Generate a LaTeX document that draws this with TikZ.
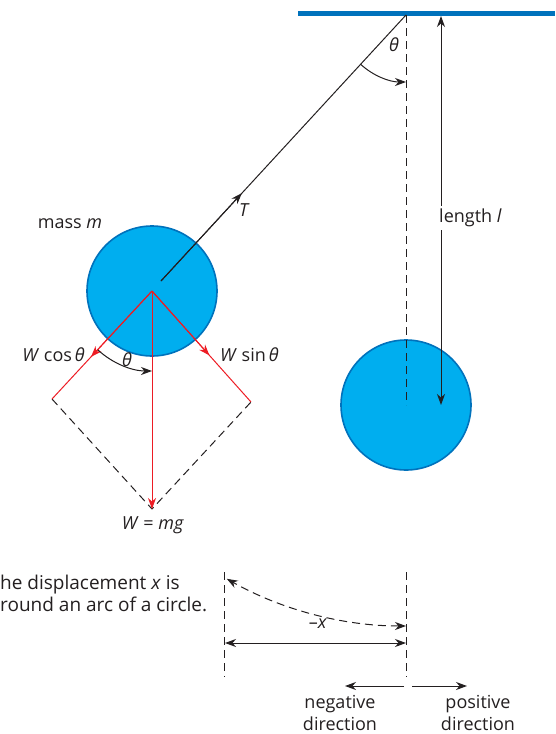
\documentclass[tikz,border=0pt]{standalone}
\usepackage{fontspec}
\setmainfont{Open Sans}
\usetikzlibrary{arrows.meta,calc}
\definecolor{bobfill}{RGB}{0,174,239}
\definecolor{bobedge}{RGB}{0,114,188}
\definecolor{barblue}{RGB}{0,114,188}
\definecolor{fred}{RGB}{237,28,36}
\definecolor{ink}{RGB}{35,31,32}
\newcommand{\thet}{\textit{θ}}
\begin{document}
\begin{tikzpicture}[x=1pt,y=-1pt,
  font=\fontsize{18}{22}\selectfont, text=ink,
  every node/.style={inner sep=1pt},
  bob/.style={circle, fill=bobfill, draw=bobedge, line width=1.6pt, minimum size=130pt, inner sep=0pt},
  ln/.style={draw=ink, line width=1pt},
  rl/.style={draw=fred, line width=1pt},
  dsh/.style={dash pattern=on 8pt off 5pt},
  tip/.style={-{Stealth[length=11pt,width=8pt,inset=3.5pt]}},
  tips/.style={{Stealth[length=11pt,width=8pt,inset=3.5pt]}-{Stealth[length=11pt,width=8pt,inset=3.5pt]}},
  lab/.style={inner sep=1pt}
]
\useasboundingbox (0,0) rectangle (555,734);

% ceiling
\coordinate (barL) at (298,13);
\coordinate (barR) at (555,13);
\draw[barblue, line width=5pt] (barL) -- (barR);
\coordinate (pivot) at (406,15);

% right bob (equilibrium)
\node[bob] (bobR) at (406,405) {};
\draw[ln,dsh] (pivot) -- (bobR.center);

% length arrow
\coordinate (lenTop) at (441,16);
\coordinate (lenBot) at (441,405);
\draw[ln,tips] (lenTop) -- (lenBot);
\node[fill=white, anchor=west, inner sep=3pt] (lenlab) at (436,218) {length \textit{l}};

% left bob (displaced)
\node[bob] (bobL) at (152,291) {};
\coordinate (strEnd) at (161,281);
\draw[ln] (pivot) -- (strEnd);
\draw[ln,tip] (strEnd) -- ($(strEnd)!0.33!(pivot)$) coordinate (Ttip);
\node[lab, anchor=west] (Tlab) at (238,210) {\textit{T}};

% angle at pivot
\draw[ln,tip] ($(pivot)+(132.5:67)$) arc[start angle=132.5, end angle=90, radius=67];
\node[lab] (thTop) at (394,45) {\thet};

% forces
\coordinate (F) at (152,291);
\coordinate (Cend) at (52,399);
\coordinate (Send) at (251,402);
\coordinate (Wbot) at (152,509);
\draw[ln,dsh] (Cend) -- (Wbot) -- (Send);
\draw[rl] (F) -- (Cend);
\draw[rl] (F) -- (Send);
\draw[rl,tip] (F) -- ($(F)!0.61!(Cend)$);
\draw[rl,tip] (F) -- ($(F)!0.58!(Send)$);
\draw[rl,tip] (F) -- (Wbot);

\draw[ln,tip] ($(F)+(132.5:80)$) arc[start angle=132.5, end angle=90, radius=80];
\node[lab] (thLow) at (127,360) {\thet};

\node[lab, anchor=east] (Wcos) at (86,355) {\textit{W} cos\,\thet};
\node[lab, anchor=west] (Wsin) at (219,355) {\textit{W} sin\,\thet};
\node[lab] (Wmg) at (153,525) {\textit{W} = \textit{mg}};
\node[lab] (mass) at (70,224) {mass \textit{m}};

% displacement
\coordinate (dL1) at (224,572); \coordinate (dL2) at (224,677);
\coordinate (dR1) at (406,572); \coordinate (dR2) at (406,677);
\draw[ln,dsh] (dL1) -- (dL2);
\draw[ln,dsh] (dR1) -- (dR2);
\coordinate (arcR) at (406,626);
\draw[ln,dsh,tips] (arcR) arc[start angle=90, end angle=119.5, radius=364] coordinate (arcL);
\node[lab] (mx) at (318,624) {–\textit{x}};
\coordinate (xL) at (225,643);
\coordinate (xR) at (406,643);
\draw[ln,tips] (xL) -- (xR);

\node[lab, anchor=west, align=left, font=\fontsize{19}{22}\selectfont] (note) at (-1,593) {he displacement \textit{x} is\\round an arc of a circle.};

% directions
\coordinate (n0) at (404,686); \coordinate (n1) at (345,686);
\coordinate (p0) at (412,686); \coordinate (p1) at (467,686);
\draw[ln,tip] (n0) -- (n1);
\draw[ln,tip] (p0) -- (p1);
\node[lab, align=center] (neg) at (340,713) {negative\\direction};
\node[lab, align=center] (pos) at (478,713) {positive\\direction};
\end{tikzpicture}
\end{document}
